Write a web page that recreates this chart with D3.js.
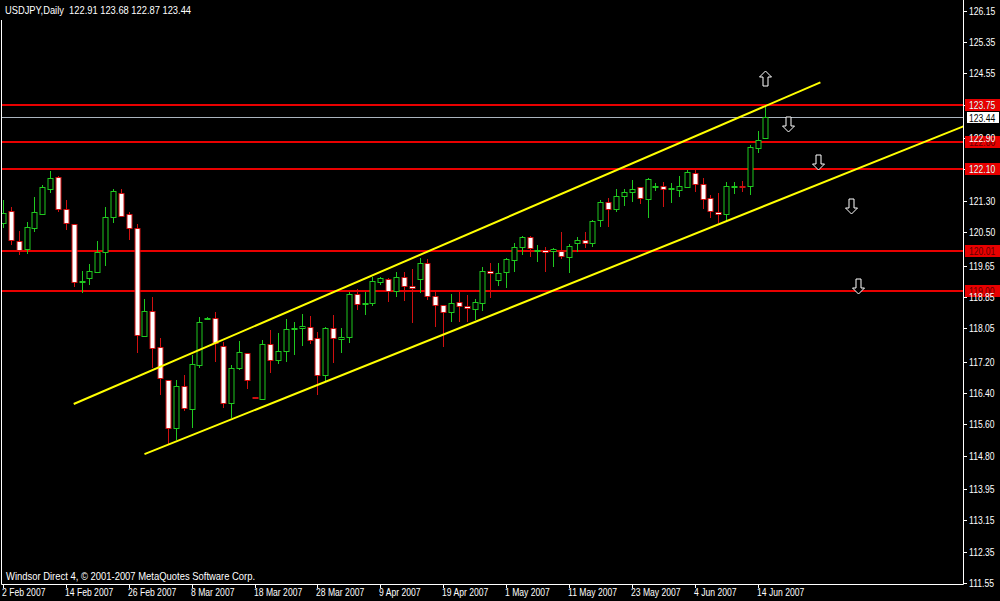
<!DOCTYPE html>
<html>
<head>
<meta charset="utf-8">
<script src="https://cdn.jsdelivr.net/npm/d3@7"></script>
<style>
  body { margin: 0; background: #000; }
  svg { display: block; }
  text { font-family: "Liberation Sans", Arial, sans-serif; }
</style>
</head>
<body>
<svg></svg>
<script>
// bars, one per trading day from 2 Feb 2007 to 15 Jun 2007
var open = [120.73,121.04,120.28,120.06,120.59,120.96,121.59,121.90,121.08,120.70,
            119.22,119.32,119.47,119.99,120.88,121.51,120.96,120.60,117.86,118.50,
            117.56,116.73,115.51,116.58,116.01,117.11,118.28,118.30,117.60,116.16,
            117.04,117.43,116.30,116.26,117.65,117.24,117.47,118.03,118.05,118.09,
            117.79,116.84,118.05,117.77,117.82,118.92,118.67,118.69,119.21,119.31,
            119.00,119.35,119.12,119.32,119.71,118.88,118.64,118.45,118.73,118.62,
            118.54,118.71,119.52,119.28,119.47,119.81,120.13,120.39,120.03,120.05,
            120.00,120.02,119.89,120.22,120.30,120.22,120.81,121.26,121.09,121.42,
            121.53,121.64,121.35,121.65,121.68,121.61,121.58,121.66,122.00,121.72,
            121.36,121.02,120.96,121.66,121.68,121.66,122.64,122.91];
var high = [121.32,121.15,120.54,120.76,121.39,121.70,122.06,121.92,121.32,120.71,
            119.51,119.69,120.28,121.15,121.59,121.59,121.02,120.70,118.79,118.84,
            117.79,116.73,116.73,116.86,117.38,118.35,118.33,118.46,117.71,117.11,
            117.72,117.43,116.31,117.75,118.01,117.94,118.28,118.22,118.41,118.36,
            117.96,118.07,118.39,118.05,118.98,119.04,118.98,119.37,119.37,119.33,
            119.49,119.48,119.56,119.83,119.81,118.98,118.64,118.92,118.97,118.90,
            118.80,119.62,119.72,119.72,119.83,120.22,120.41,120.41,120.17,120.11,
            120.09,120.51,120.20,120.39,120.51,120.81,121.32,121.36,121.59,121.59,
            121.83,121.64,121.87,121.76,121.77,121.75,121.93,122.09,122.09,121.87,
            121.45,121.49,121.79,121.79,121.81,122.72,123.09,123.68];
var low  = [120.60,120.17,119.92,119.94,120.51,120.94,121.51,121.02,120.56,119.11,
            118.94,119.15,119.47,119.64,120.74,120.88,120.30,117.43,117.86,117.03,
            116.35,115.11,115.20,115.95,115.51,117.03,118.26,117.20,116.01,115.75,
            116.98,116.49,116.26,116.24,116.90,117.14,117.20,117.38,117.61,117.66,
            116.35,116.67,117.16,117.43,117.68,118.52,118.39,118.63,119.15,118.71,
            118.84,118.75,118.19,118.94,118.77,118.09,117.58,118.20,118.20,118.20,
            118.26,118.50,118.81,119.14,119.07,119.49,119.92,119.88,119.75,119.49,
            119.60,119.81,119.45,120.00,120.09,120.11,120.62,120.64,121.02,121.17,
            121.28,121.21,120.85,121.55,121.15,121.24,121.39,121.64,121.53,121.08,
            120.85,120.73,120.77,121.47,121.53,121.45,122.51,122.87];
var close = [120.98,120.30,120.05,120.62,121.01,121.64,121.87,121.09,120.73,119.21,
            119.25,119.51,119.99,120.88,121.55,120.92,120.60,117.88,118.50,117.56,
            116.77,115.50,116.58,116.03,117.15,118.20,118.31,117.66,116.15,117.05,
            117.45,116.75,116.27,117.65,117.24,117.47,118.03,118.05,118.11,117.77,
            116.84,118.05,117.79,117.82,118.92,118.67,118.70,119.26,119.32,119.01,
            119.35,119.11,119.07,119.72,118.88,118.64,118.45,118.69,118.64,118.56,
            118.73,119.52,119.48,119.47,119.81,120.13,120.39,120.11,120.05,120.00,
            120.06,119.89,120.16,120.30,120.23,120.79,121.26,121.08,121.43,121.53,
            121.61,121.35,121.86,121.67,121.61,121.63,121.69,122.04,121.72,121.35,
            121.02,120.96,121.68,121.68,121.66,122.66,122.85,123.44];

// date labels, one every 8 bars
var dateLabels = ["2 Feb 2007","14 Feb 2007","26 Feb 2007","8 Mar 2007","18 Mar 2007",
                  "28 Mar 2007","9 Apr 2007","19 Apr 2007","1 May 2007","11 May 2007",
                  "23 May 2007","4 Jun 2007","14 Jun 2007"];
var priceTicks = [126.15,125.35,124.55,123.75,122.90,122.10,121.30,120.50,119.65,
                  118.85,118.05,117.20,116.40,115.60,114.80,113.95,113.15,112.35,111.55];

// horizontal levels, bid line, channel lines [bar, price], arrows [bar, price]
var levels = [123.75, 122.80, 122.10, 120.01, 119.00];
var bid = 123.44;
var channelUpper = [[9, 116.12], [104, 124.32]];
var channelLower = [[18, 114.84], [122.2, 123.20]];
var arrowsUp = [[97, 124.43]];
var arrowsDown = [[99.9, 123.27], [103.75, 122.28], [107.9, 121.18], [108.8, 119.14]];

var header = "USDJPY,Daily  " + open[97].toFixed(2) + " " + high[97].toFixed(2) + " " +
             low[97].toFixed(2) + " " + close[97].toFixed(2);

var W = 1000, H = 601;
var plot = { left: 2, right: 963, top: 0, bottom: 584 };

var svg = d3.select("svg")
    .attr("width", W)
    .attr("height", H);

svg.append("rect").attr("width", W).attr("height", H).attr("fill", "#000");

var xScale = d3.scaleLinear()
    .domain([0, 97])
    .range([3, 765.4]);

var yScale = d3.scaleLinear()
    .domain([111.53, 126.42])
    .range([plot.bottom, plot.top]);

// narrow text, like the terminal's bitmap font
function label(sel, x, y, sx) {
  return sel.attr("transform", function(d, k) {
    return "translate(" + x(d, k) + "," + y(d, k) + ") scale(" + sx + ",1)";
  });
}

svg.append("clipPath").attr("id", "clip")
  .append("rect")
    .attr("x", plot.left)
    .attr("y", plot.top)
    .attr("width", plot.right - plot.left)
    .attr("height", plot.bottom - plot.top);

var g = svg.append("g").attr("clip-path", "url(#clip)");

// red levels
g.selectAll(".level")
  .data(levels)
  .enter().append("line")
    .attr("x1", plot.left).attr("x2", plot.right)
    .attr("y1", function(d) { return Math.round(yScale(d)); })
    .attr("y2", function(d) { return Math.round(yScale(d)); })
    .attr("stroke", "#e80000")
    .attr("stroke-width", 2);

// bid line
g.append("line")
    .attr("x1", plot.left).attr("x2", plot.right)
    .attr("y1", Math.round(yScale(bid)) + 0.5)
    .attr("y2", Math.round(yScale(bid)) + 0.5)
    .attr("stroke", "#aab4be")
    .attr("stroke-width", 1);

// candles
var bars = d3.range(open.length);
var bull = function(i) { return close[i] >= open[i]; };
var cx = function(i) { return Math.round(xScale(i)); };

var candle = g.selectAll(".candle")
  .data(bars)
  .enter().append("g")
    .attr("class", "candle");

candle.append("line")
    .attr("x1", function(i) { return cx(i) + 0.5; })
    .attr("x2", function(i) { return cx(i) + 0.5; })
    .attr("y1", function(i) { return Math.round(yScale(high[i])); })
    .attr("y2", function(i) { return Math.round(yScale(low[i])); })
    .attr("stroke", function(i) { return bull(i) ? "#1fc81f" : "#d01010"; })
    .attr("stroke-width", 1);

candle.append("rect")
    .attr("x", function(i) { return cx(i) - 2; })
    .attr("y", function(i) { return Math.round(yScale(Math.max(open[i], close[i]))) + 0.5; })
    .attr("width", 5)
    .attr("height", function(i) {
      return Math.max(1, Math.round(Math.abs(yScale(open[i]) - yScale(close[i]))));
    })
    .attr("fill", function(i) { return bull(i) ? "#000" : "#fff"; })
    .attr("stroke", function(i) { return bull(i) ? "#1fc81f" : "#d01010"; })
    .attr("stroke-width", 1);

// channel
var line = d3.line()
    .x(function(d) { return xScale(d[0]); })
    .y(function(d) { return yScale(d[1]); });

g.selectAll(".channel")
  .data([channelUpper, channelLower])
  .enter().append("path")
    .attr("d", line)
    .attr("fill", "none")
    .attr("stroke", "#ffff00")
    .attr("stroke-width", 2);

// arrows (hollow, white)
var upArrow = "M0,-7.5 L6,-1.5 L2.5,-1.5 L2.5,7.5 L-2.5,7.5 L-2.5,-1.5 L-6,-1.5 Z";
var downArrow = "M0,7.5 L6,1.5 L2.5,1.5 L2.5,-7.5 L-2.5,-7.5 L-2.5,1.5 L-6,1.5 Z";

g.selectAll(".arrowUp")
  .data(arrowsUp)
  .enter().append("path")
    .attr("d", upArrow)
    .attr("transform", function(d) { return "translate(" + (Math.round(xScale(d[0])) + 0.5) + "," + (Math.round(yScale(d[1])) + 0.5) + ")"; })
    .attr("fill", "#000").attr("stroke", "#fff").attr("stroke-width", 1);

g.selectAll(".arrowDown")
  .data(arrowsDown)
  .enter().append("path")
    .attr("d", downArrow)
    .attr("transform", function(d) { return "translate(" + (Math.round(xScale(d[0])) + 0.5) + "," + (Math.round(yScale(d[1])) + 0.5) + ")"; })
    .attr("fill", "#000").attr("stroke", "#fff").attr("stroke-width", 1);

// frame
svg.append("path")
    .attr("d", "M" + (plot.left - 0.5) + ",20 V" + (plot.bottom + 0.5) + " H" + (plot.right + 0.5) + " V0")
    .attr("fill", "none")
    .attr("stroke", "#fff")
    .attr("stroke-width", 1);

// price axis
var yAxis = svg.append("g");
yAxis.selectAll(".tick")
  .data(priceTicks)
  .enter().append("line")
    .attr("x1", plot.right).attr("x2", plot.right + 4)
    .attr("y1", function(d) { return Math.round(yScale(d)) + 0.5; })
    .attr("y2", function(d) { return Math.round(yScale(d)) + 0.5; })
    .attr("stroke", "#fff");

// level boxes on the axis
yAxis.selectAll(".levelBox")
  .data(levels)
  .enter().append("rect")
    .attr("x", plot.right + 2)
    .attr("y", function(d) { return Math.round(yScale(d)) - 6; })
    .attr("width", 35)
    .attr("height", 12)
    .attr("fill", "#e80000");

label(yAxis.selectAll(".levelText")
  .data(levels)
  .enter().append("text"),
    function() { return plot.right + 6; },
    function(d) { return Math.round(yScale(d)) + 4; }, 0.86)
    .attr("fill", "#600000")
    .attr("font-size", "10px")
    .text(function(d) { return d.toFixed(2); });

label(yAxis.selectAll(".tickText")
  .data(priceTicks)
  .enter().append("text"),
    function() { return plot.right + 6; },
    function(d) { return Math.round(yScale(d)) + 4; }, 0.86)
    .attr("fill", "#fff")
    .attr("font-size", "10px")
    .text(function(d) { return d.toFixed(2); });

// bid box
yAxis.append("rect")
    .attr("x", plot.right + 3.5)
    .attr("y", Math.round(yScale(bid)) - 5.5)
    .attr("width", 33)
    .attr("height", 12)
    .attr("fill", "#fff")
    .attr("stroke", "#000");
label(yAxis.append("text"),
    function() { return plot.right + 6; },
    function() { return Math.round(yScale(bid)) + 4.5; }, 0.86)
    .attr("fill", "#000")
    .attr("font-size", "10px")
    .text(bid.toFixed(2));

// date axis
var xAxis = svg.append("g");
xAxis.selectAll(".tick")
  .data(dateLabels)
  .enter().append("line")
    .attr("x1", function(d, k) { return cx(k * 8) + 0.5; })
    .attr("x2", function(d, k) { return cx(k * 8) + 0.5; })
    .attr("y1", plot.bottom)
    .attr("y2", plot.bottom + 4)
    .attr("stroke", "#fff");

label(xAxis.selectAll(".label")
  .data(dateLabels)
  .enter().append("text"),
    function(d, k) { return cx(k * 8) - 1; },
    function() { return 596; }, 0.86)
    .attr("fill", "#fff")
    .attr("font-size", "10px")
    .text(function(d) { return d; });

// header and footer
label(svg.append("text"), function() { return 5; }, function() { return 14; }, 0.89)
    .attr("fill", "#fff")
    .attr("font-size", "10.5px")
    .style("white-space", "pre")
    .text(header);

label(svg.append("text"), function() { return 6; }, function() { return 580; }, 0.9)
    .attr("fill", "#fff")
    .attr("font-size", "10.5px")
    .text("Windsor Direct 4, \u00a9 2001-2007 MetaQuotes Software Corp.");
</script>
</body>
</html>
